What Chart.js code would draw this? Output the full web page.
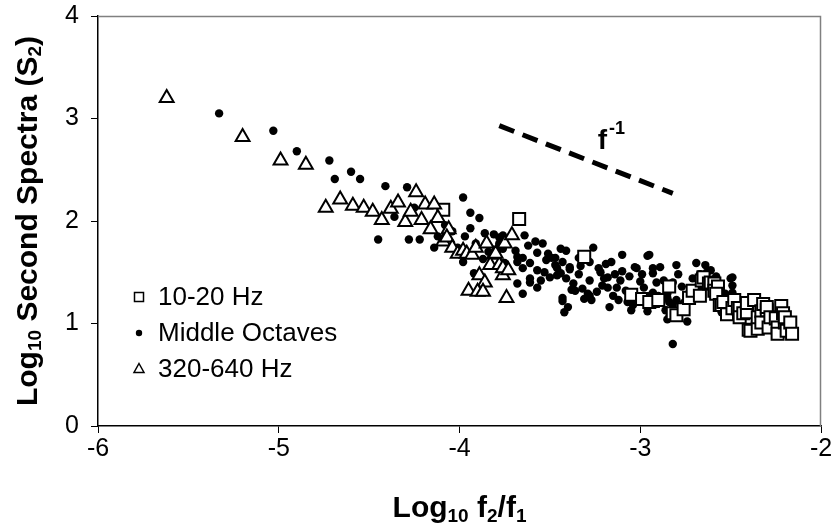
<!DOCTYPE html>
<html>
<head>
<meta charset="utf-8">
<title>Second spectra</title>
<script src="https://cdn.jsdelivr.net/npm/chart.js@4.4.1/dist/chart.umd.min.js"></script>
<style>
  body { margin: 0; background: #fff; }
  #wrap { width: 838px; height: 531px; }
</style>
</head>
<body>
<div id="wrap"><canvas id="spectraChart" width="838" height="531"></canvas></div>
<script>
// Séries (log10 f2/f1, log10 S2)
const lowLabel = '10-20 Hz';
const lowX = [-4.09, -3.67, -3.31, -3.05, -2.99, -2.93, -2.95, -2.90, -2.84, -2.82, -2.80, -2.76, -2.73, -2.71, -2.67, -2.66,
  -2.65, -2.62, -2.61, -2.59, -2.59, -2.57, -2.58, -2.56, -2.55, -2.54, -2.52, -2.49, -2.48, -2.46, -2.45, -2.45,
  -2.43, -2.41, -2.41, -2.40, -2.39, -2.37, -2.35, -2.35, -2.33, -2.33, -2.32, -2.30, -2.30, -2.29, -2.28, -2.25,
  -2.24, -2.24, -2.22, -2.21, -2.20, -2.20, -2.19, -2.17, -2.16];
const lowY = [2.11, 2.02, 1.65, 1.28, 1.24, 1.22, 1.21, 1.23, 1.36, 1.10, 1.08, 1.14, 1.25, 1.32, 1.27, 1.42,
  1.45, 1.39, 1.40, 1.39, 1.32, 1.36, 1.29, 1.18, 1.18, 1.21, 1.09, 1.15, 1.23, 1.15, 1.15, 1.06,
  1.10, 1.11, 1.20, 0.94, 0.93, 1.23, 0.95, 1.06, 1.12, 1.01, 1.19, 1.13, 1.16, 0.96, 1.06, 1.05,
  0.96, 0.90, 1.17, 1.10, 1.01, 1.06, 0.93, 1.01, 0.90];

const midLabel = 'Middle Octaves';
const midX = [-5.33, -5.03, -4.90, -4.72, -4.69, -4.60, -4.55, -4.41, -4.29, -4.25, -4.36, -4.45, -4.28, -4.22, -3.98, -3.94,
  -3.89, -3.94, -3.97, -4.08, -4.12, -4.14, -3.86, -3.81, -3.78, -3.87, -3.92, -3.98, -3.79, -3.75, -3.76, -4.01,
  -3.76, -3.78, -3.69, -3.68, -3.64, -3.58, -3.54, -3.57, -3.51, -3.44, -3.41, -3.49, -3.47, -3.43, -3.39, -3.34,
  -3.65, -3.61, -3.65, -3.68, -3.57, -3.53, -3.50, -3.46, -3.41, -3.37, -3.61, -3.55, -3.57, -3.61, -3.68, -3.65,
  -3.43, -3.43, -3.40, -3.42, -3.38, -3.32, -3.28, -3.29, -3.31, -3.27, -3.23, -3.18, -3.21, -3.17, -3.10, -2.96,
  -2.69, -2.64, -2.80, -3.03, -2.93, -2.89, -3.10, -2.99, -3.06, -2.79, -2.67, -2.63, -3.22, -3.11, -2.87, -2.82,
  -3.18, -3.13, -3.08, -2.98, -2.93, -2.90, -2.85, -2.80, -2.76, -2.72, -3.15, -3.12, -3.06, -3.04, -3.05, -2.96,
  -2.86, -2.84, -2.80, -2.74, -2.82, -2.67, -2.63, -2.59, -2.50, -2.53, -2.49, -2.54, -2.93, -2.85, -2.84, -2.82,
  -2.95, -2.95, -2.85, -2.61, -2.58, -2.49, -2.49, -2.52, -2.55, -2.52, -3.26, -3.16, -3.34, -3.28, -3.47, -3.46,
  -3.44, -3.39, -3.36, -3.28, -3.20, -3.02, -3.07, -3.02, -3.33, -3.24, -3.14, -2.91, -2.77, -2.71, -2.57, -3.52,
  -3.62, -4.04, -3.91, -3.84, -3.19, -3.00];
const midY = [3.05, 2.88, 2.68, 2.59, 2.41, 2.48, 2.41, 2.34, 2.33, 2.13, 2.04, 1.82, 1.82, 1.82, 2.23, 2.08,
  2.03, 1.93, 1.85, 1.96, 1.85, 1.74, 1.88, 1.87, 1.84, 1.63, 1.49, 1.60, 1.71, 1.59, 1.73, 1.74,
  1.86, 1.78, 1.71, 1.65, 1.86, 1.80, 1.78, 1.69, 1.68, 1.73, 1.71, 1.64, 1.57, 1.60, 1.55, 1.48,
  1.64, 1.59, 1.54, 1.60, 1.52, 1.50, 1.45, 1.47, 1.44, 1.39, 1.44, 1.42, 1.35, 1.40, 1.39, 1.29,
  1.25, 1.22, 1.16, 1.11, 1.33, 1.34, 1.42, 1.29, 1.24, 1.23, 1.54, 1.45, 1.37, 1.16, 1.67, 1.66,
  1.59, 1.57, 1.57, 1.55, 1.54, 1.55, 1.51, 1.48, 1.46, 1.48, 1.48, 1.50, 1.50, 1.42, 1.42, 1.40,
  1.35, 1.35, 1.32, 1.35, 1.30, 1.27, 1.29, 1.23, 1.20, 1.25, 1.27, 1.23, 1.23, 1.18, 1.13, 1.12,
  1.13, 1.06, 1.10, 1.02, 0.80, 1.32, 1.39, 1.42, 1.44, 1.29, 1.30, 1.20, 1.49, 1.25, 1.21, 1.18,
  1.67, 1.27, 1.04, 1.52, 1.46, 1.45, 1.37, 1.23, 1.11, 1.11, 1.74, 1.60, 1.64, 1.60, 1.64, 1.54,
  1.49, 1.53, 1.32, 1.27, 1.44, 1.54, 1.21, 1.25, 1.56, 1.31, 1.48, 1.40, 1.36, 1.44, 1.33, 1.62,
  1.76, 1.90, 1.78, 1.70, 1.58, 1.41];

const highLabel = '320-640 Hz';
const highX = [-5.62, -5.20, -4.99, -4.85, -4.74, -4.66, -4.59, -4.53, -4.48, -4.43, -4.38, -4.34, -4.30, -4.27, -4.24, -4.21,
  -4.19, -4.14, -4.12, -4.16, -4.09, -4.06, -4.07, -4.04, -4.01, -3.98, -3.96, -3.93, -3.91, -3.85, -3.81, -3.83,
  -3.89, -3.86, -3.95, -3.90, -3.87, -3.78, -3.76, -3.75, -3.74, -3.71, -3.80, -3.76, -3.73];
const highY = [3.20, 2.82, 2.59, 2.55, 2.13, 2.21, 2.15, 2.13, 2.09, 2.01, 2.12, 2.18, 1.99, 2.09, 2.28, 2.01,
  2.16, 2.16, 2.03, 1.92, 1.80, 1.92, 1.84, 1.74, 1.68, 1.71, 1.68, 1.67, 1.74, 1.78, 1.67, 1.57,
  1.47, 1.40, 1.32, 1.31, 1.31, 1.57, 1.47, 1.78, 1.25, 1.86, 1.68, 1.54, 1.52];

// droite de référence en f^-1
const slopeX = [-3.78, -2.82];
const slopeY = [2.93, 2.27];
const slopeLabelPos = [-3.235, 2.70];

const xTicks = [-6, -5, -4, -3, -2];
const yTicks = [0, 1, 2, 3, 4];

const FONT = '"Liberation Sans", Arial, sans-serif';

function toPoints(xs, ys) {
    return xs.map((x, i) => ({ x: x, y: ys[i] }));
}

// Texte avec indices / exposants, dessiné morceau par morceau
function drawRichText(ctx, parts, x, y) {
    let total = 0;
    parts.forEach(p => {
        ctx.font = p.font;
        p.w = ctx.measureText(p.t).width;
        total += p.w;
    });
    let cx = x - total / 2;
    parts.forEach(p => {
        ctx.font = p.font;
        ctx.fillText(p.t, cx, y + (p.dy || 0));
        cx += p.w;
    });
}

const main = 'bold 30px ' + FONT;
const small = 'bold 19px ' + FONT;

const extrasPlugin = {
    id: 'extras',
    beforeDatasetsDraw(chart) {
        const ctx = chart.ctx;
        const a = chart.chartArea;
        ctx.save();
        ctx.strokeStyle = '#808080';
        ctx.lineWidth = 1.5;
        ctx.beginPath();
        ctx.moveTo(a.left, a.top + 0.5);
        ctx.lineTo(a.right - 0.5, a.top + 0.5);
        ctx.lineTo(a.right - 0.5, a.bottom);
        ctx.stroke();
        ctx.restore();
    },
    afterDraw(chart) {
        const ctx = chart.ctx;
        const a = chart.chartArea;
        const xs = chart.scales.x;
        const ys = chart.scales.y;
        ctx.save();
        ctx.fillStyle = '#000';
        ctx.textBaseline = 'alphabetic';
        ctx.textAlign = 'left';

        // titre de l'axe x
        drawRichText(ctx, [
            { t: 'Log', font: main },
            { t: '10', font: small, dy: 5 },
            { t: ' f', font: main },
            { t: '2', font: small, dy: 5 },
            { t: '/f', font: main },
            { t: '1', font: small, dy: 5 }
        ], (a.left + a.right) / 2, 517);

        // titre de l'axe y
        ctx.save();
        ctx.translate(37, (a.top + a.bottom) / 2);
        ctx.rotate(-Math.PI / 2);
        drawRichText(ctx, [
            { t: 'Log', font: main },
            { t: '10', font: small, dy: 4 },
            { t: ' Second Spectra (S', font: main },
            { t: '2', font: small, dy: 4 },
            { t: ')', font: main }
        ], 0, 0);
        ctx.restore();

        // étiquette de pente
        const fx = xs.getPixelForValue(slopeLabelPos[0]);
        const fy = ys.getPixelForValue(slopeLabelPos[1]);
        ctx.font = 'bold 28px ' + FONT;
        ctx.fillText('f', fx, fy);
        const fw = ctx.measureText('f').width;
        ctx.font = 'bold 18px ' + FONT;
        ctx.fillText('-1', fx + fw + 2, fy - 15);

        // légende dans la zone de tracé
        const lx = a.left + 41;
        const tx = a.left + 60;
        const rows = [a.top + 281, a.top + 317, a.top + 353];
        ctx.font = '26px ' + FONT;
        ctx.textBaseline = 'middle';
        ctx.strokeStyle = '#000';
        ctx.lineWidth = 1.5;

        ctx.fillStyle = '#fff';
        ctx.fillRect(lx - 4.5, rows[0] - 4.5, 9, 9);
        ctx.strokeRect(lx - 4.5, rows[0] - 4.5, 9, 9);

        ctx.fillStyle = '#000';
        ctx.beginPath();
        ctx.arc(lx, rows[1], 3.2, 0, Math.PI * 2);
        ctx.fill();

        ctx.beginPath();
        ctx.moveTo(lx, rows[2] - 5.5);
        ctx.lineTo(lx + 5, rows[2] + 3.5);
        ctx.lineTo(lx - 5, rows[2] + 3.5);
        ctx.closePath();
        ctx.fillStyle = '#fff';
        ctx.fill();
        ctx.stroke();

        ctx.fillStyle = '#000';
        ctx.fillText(lowLabel, tx, rows[0] + 1);
        ctx.fillText(midLabel, tx, rows[1] + 1);
        ctx.fillText(highLabel, tx, rows[2] + 1);
        ctx.restore();
    }
};

const ctx = document.getElementById('spectraChart').getContext('2d');

new Chart(ctx, {
    type: 'scatter',
    data: {
        datasets: [
            {
                label: highLabel,
                data: toPoints(highX, highY),
                pointStyle: 'triangle',
                pointRadius: 8,
                borderWidth: 2,
                borderColor: '#000',
                backgroundColor: '#fff',
                order: 1
            },
            {
                label: lowLabel,
                data: toPoints(lowX, lowY),
                pointStyle: 'rect',
                pointRadius: 8.5,
                borderWidth: 2,
                borderColor: '#000',
                backgroundColor: '#fff',
                order: 2
            },
            {
                label: midLabel,
                data: toPoints(midX, midY),
                pointStyle: 'circle',
                pointRadius: 4.2,
                borderWidth: 0,
                borderColor: '#000',
                backgroundColor: '#000',
                order: 3
            },
            {
                type: 'line',
                label: 'f-1',
                data: toPoints(slopeX, slopeY),
                borderColor: '#000',
                borderWidth: 5,
                borderDash: [16, 9],
                pointRadius: 0,
                fill: false,
                order: 0
            }
        ]
    },
    options: {
        responsive: false,
        animation: false,
        layout: { padding: { left: 0, right: 17, top: 16, bottom: 0 } },
        plugins: {
            legend: { display: false },
            tooltip: { enabled: false }
        },
        scales: {
            x: {
                type: 'linear',
                min: -6,
                max: -2,
                afterBuildTicks: scale => { scale.ticks = xTicks.map(v => ({ value: v })); },
                afterFit: scale => { scale.height = 105; },
                ticks: {
                    color: '#000',
                    font: { family: FONT, size: 25 },
                    padding: 1
                },
                grid: { drawOnChartArea: false, tickLength: 7, color: '#000' },
                border: { color: '#000', width: 1.5 }
            },
            y: {
                type: 'linear',
                min: 0,
                max: 4,
                afterBuildTicks: scale => { scale.ticks = yTicks.map(v => ({ value: v })); },
                afterFit: scale => {
                    scale.width = 98;
                    scale.paddingTop = 0;
                    scale.paddingBottom = 0;
                },
                ticks: {
                    color: '#000',
                    font: { family: FONT, size: 25 },
                    padding: 12
                },
                grid: { drawOnChartArea: false, tickLength: 7, color: '#000' },
                border: { color: '#000', width: 1.5 }
            }
        }
    },
    plugins: [extrasPlugin]
});
</script>
</body>
</html>
